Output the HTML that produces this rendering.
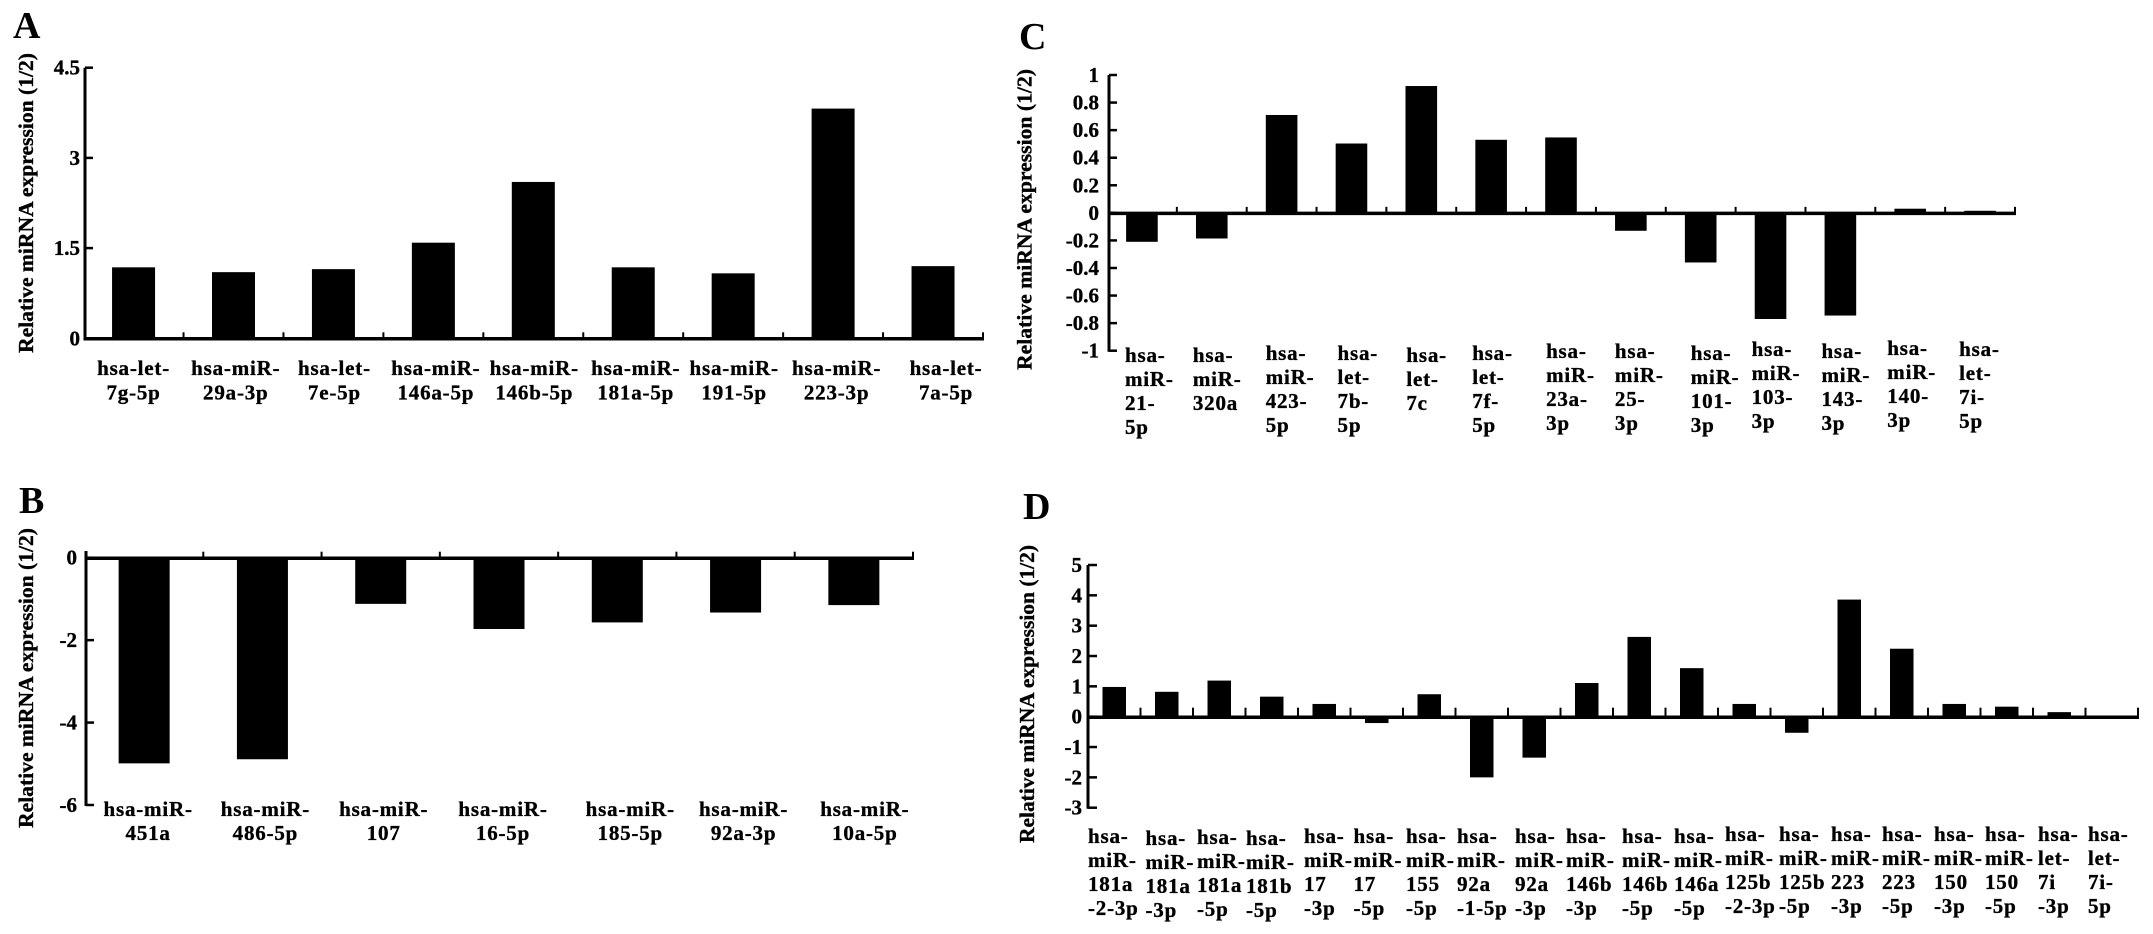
<!DOCTYPE html>
<html lang="en">
<head>
<meta charset="utf-8">
<title>Relative miRNA expression</title>
<style>
html,body{margin:0;padding:0;background:#fff;width:2153px;height:934px;overflow:hidden}
svg{display:block}
text{font-family:"Liberation Serif",serif;font-weight:bold;fill:#000}
.heavy{stroke:#000;stroke-width:0.35px}
</style>
</head>
<body>
<svg id="figure" xmlns="http://www.w3.org/2000/svg" width="2153" height="934" viewBox="0 0 2153 934">
  <rect x="0" y="0" width="2153" height="934" fill="#fff"/>
  <g id="panel-a"><text x="13" y="38" font-size="38">A</text></g>
  <g id="panel-b"><text x="19" y="513" font-size="38">B</text></g>
  <g id="panel-c"><text x="1019" y="49" font-size="38">C</text></g>
  <g id="panel-d"><text x="1023" y="519" font-size="38">D</text></g>
</svg>
<script>
// ---- Panel A data ----
const categoriesA = ['hsa-let-|7g-5p','hsa-miR-|29a-3p','hsa-let-|7e-5p','hsa-miR-|146a-5p','hsa-miR-|146b-5p','hsa-miR-|181a-5p','hsa-miR-|191-5p','hsa-miR-|223-3p','hsa-let-|7a-5p'];
const valuesA = [1.18,1.10,1.15,1.59,2.60,1.18,1.08,3.82,1.20];
const tickLabelsA = ['0','1.5','3','4.5'];

// ---- Panel B data ----
const categoriesB = ['hsa-miR-|451a','hsa-miR-|486-5p','hsa-miR-|107','hsa-miR-|16-5p','hsa-miR-|185-5p','hsa-miR-|92a-3p','hsa-miR-|10a-5p'];
const valuesB = [-4.99,-4.89,-1.12,-1.73,-1.57,-1.33,-1.15];
const tickLabelsB = ['0','-2','-4','-6'];

// ---- Panel C data ----
const categoriesC = ['hsa-|miR-|21-|5p','hsa-|miR-|320a','hsa-|miR-|423-|5p','hsa-|let-|7b-|5p','hsa-|let-|7c','hsa-|let-|7f-|5p','hsa-|miR-|23a-|3p','hsa-|miR-|25-|3p','hsa-|miR-|101-|3p','hsa-|miR-|103-|3p','hsa-|miR-|143-|3p','hsa-|miR-|140-|3p','hsa-|let-|7i-|5p'];
const valuesC = [-0.21,-0.186,0.71,0.503,0.92,0.53,0.547,-0.13,-0.36,-0.77,-0.745,0.03,0.015];
const tickLabelsC = ['1','0.8','0.6','0.4','0.2','0','-0.2','-0.4','-0.6','-0.8','-1'];

// ---- Panel D data ----
const categoriesD = ['hsa-|miR-|181a|-2-3p','hsa-|miR-|181a|-3p','hsa-|miR-|181a|-5p','hsa-|miR-|181b|-5p','hsa-|miR-|17|-3p','hsa-|miR-|17|-5p','hsa-|miR-|155|-5p','hsa-|miR-|92a|-1-5p','hsa-|miR-|92a|-3p','hsa-|miR-|146b|-3p','hsa-|miR-|146b|-5p','hsa-|miR-|146a|-5p','hsa-|miR-|125b|-2-3p','hsa-|miR-|125b|-5p','hsa-|miR-|223|-3p','hsa-|miR-|223|-5p','hsa-|miR-|150|-3p','hsa-|miR-|150|-5p','hsa-|let-|7i|-3p','hsa-|let-|7i-|5p'];
const valuesD = [0.98,0.82,1.19,0.66,0.42,-0.21,0.74,-2.0,-1.35,1.11,2.63,1.6,0.42,-0.53,3.86,2.24,0.42,0.33,0.15,0];
const tickLabelsD = ['5','4','3','2','1','0','-1','-2','-3'];

const SVGNS = 'http://www.w3.org/2000/svg';

function make(tag, attrs, parent) {
  const el = document.createElementNS(SVGNS, tag);
  for (const k in attrs) el.setAttribute(k, attrs[k]);
  parent.appendChild(el);
  return el;
}

function drawPanel(key, categories, values, tickLabels, g) {
  const tickValues = tickLabels.map(Number);
  const dMin = Math.min.apply(null, tickValues);
  const dMax = Math.max.apply(null, tickValues);
  const yScale = v => g.yLow + (v - dMin) / (dMax - dMin) * (g.yHigh - g.yLow);
  const step = (g.bandEnd - g.bandStart) / categories.length;
  const xLeft = i => g.bandStart + i * step;
  const xCenter = i => xLeft(i) + step / 2;
  const root = document.getElementById('panel-' + key);

  // bars
  values.forEach(function (v, i) {
    if (v === 0) return;
    const y0 = yScale(0), yv = yScale(v);
    const bar = make('rect', {x: xCenter(i) - g.barWidth / 2, y: Math.min(y0, yv), width: g.barWidth, height: Math.abs(yv - y0), fill: '#000'}, root);
    
    
  });

  // y axis
  const yAxis = make('line', {x1: g.axisX, x2: g.axisX, y1: Math.min(yScale(dMax), g.axisTop === undefined ? 1e9 : g.axisTop), y2: yScale(dMin) + 1, stroke: '#000', 'stroke-width': 3}, root);
  
  

  // y ticks
  tickLabels.forEach(function (label, i) {
    const y = yScale(tickValues[i]);
    const tick = make('line', {x1: g.axisX, x2: g.axisX + g.yTickLen, y1: y, y2: y, stroke: '#000', 'stroke-width': 2.5}, root);
    
    
    const t = make('text', {x: g.tickLabelX, y: y + 7, 'text-anchor': 'end', 'font-size': g.tickFont, class: 'heavy'}, root);
    t.textContent = label;
    
    
  });

  // x axis
  const y0 = yScale(0);
  const xAxis = make('line', {x1: g.axisX - 1.5, x2: g.bandEnd + 1, y1: y0 + 0.5, y2: y0 + 0.5, stroke: '#000', 'stroke-width': 3.5}, root);
  
  

  // x ticks (upward marks between categories)
  categories.forEach(function (c, i) {
    const x = xLeft(i + 1);
    const tick = make('line', {x1: x, x2: x, y1: y0 - g.xTickLen, y2: y0, stroke: '#000', 'stroke-width': 2}, root);
    
    
  });

  // category labels
  categories.forEach(function (c, i) {
    const lines = c.split('|');
    const dx = g.labelDx[i];
    const dy = g.labelDy ? g.labelDy[i] : 0;
    const x = g.labelAnchor === 'start' ? xLeft(i) + dx : xCenter(i) + dx;
    const t = make('text', {'text-anchor': g.labelAnchor, 'font-size': g.labelFont, 'letter-spacing': g.labelSpacing, class: 'heavy'}, root);
    
    
    lines.forEach(function (line, n) {
      const s = make('tspan', {x: x, y: g.labelY + dy + n * g.linePitch}, t);
      s.textContent = line;
    });
  });

  // y-axis title
  const title = make('text', {x: g.titleX, y: g.titleBottom, 'font-size': 21, textLength: g.titleLen, lengthAdjust: 'spacingAndGlyphs', class: 'heavy', transform: 'rotate(-90 ' + g.titleX + ' ' + g.titleBottom + ')'}, root);
  title.textContent = 'Relative miRNA expression (1/2)';
  
  
}

drawPanel('a', categoriesA, valuesA, tickLabelsA, {
  yLow: 338.3, yHigh: 67.7, axisX: 85, bandStart: 83.6, bandEnd: 983, barWidth: 43,
  yTickLen: 8, xTickLen: 6, tickLabelX: 80, tickFont: 21, labelAnchor: 'middle', labelFont: 21, labelSpacing: 0.8,
  labelDx: [0, 2.3, 1, 2.5, 1, 2.5, 1, 3.5, 13], labelY: 375, linePitch: 24.5,
  titleX: 33, titleBottom: 353, titleLen: 300
});
drawPanel('b', categoriesB, valuesB, tickLabelsB, {
  yLow: 805, yHigh: 557.7, axisX: 86, axisTop: 551, bandStart: 85, bandEnd: 913, barWidth: 51,
  yTickLen: 8, xTickLen: 6, tickLabelX: 77, tickFont: 21, labelAnchor: 'middle', labelFont: 21, labelSpacing: 0.8,
  labelDx: [4, 3, 3, 4, 13, 8, 11], labelY: 816, linePitch: 24,
  titleX: 33, titleBottom: 828, titleLen: 300
});
drawPanel('c', categoriesC, valuesC, tickLabelsC, {
  yLow: 350.7, yHigh: 75, axisX: 1109, bandStart: 1107, bandEnd: 2015, barWidth: 31.6,
  yTickLen: 8, xTickLen: 6, tickLabelX: 1099, tickFont: 21, labelAnchor: 'start', labelFont: 21, labelSpacing: 0.8,
  labelDx: [18, 16, 19, 21, 20, 16, 20, 19, 25, 16, 16, 12, 14],
  labelDy: [2, 2, 0, 0, 2, 0, -2, -2, 0, -4, -2, -5, -4], labelY: 360, linePitch: 24,
  titleX: 1031.5, titleBottom: 370, titleLen: 301
});
drawPanel('d', categoriesD, valuesD, tickLabelsD, {
  yLow: 807.7, yHigh: 565, axisX: 1088, bandStart: 1088, bandEnd: 2138, barWidth: 23.5,
  yTickLen: 9, xTickLen: 9, tickLabelX: 1082, tickFont: 21, labelAnchor: 'start', labelFont: 21, labelSpacing: 0.8,
  labelDx: [0, 5, 4, 0.5, 6, 3, 3, 1.5, 7, 5.5, 9, 8.5, 7, 8.5, 8, 6.5, 6, 4.5, 5, 2.5],
  labelDy: [0, 2, 1, 2, 0, 0, 0, 0, 0, 0, 0, 0, -2, -2, -2, -2, -2, -2, -2, -2], labelY: 843, linePitch: 24,
  titleX: 1034, titleBottom: 843, titleLen: 298
});
</script>
</body>
</html>
